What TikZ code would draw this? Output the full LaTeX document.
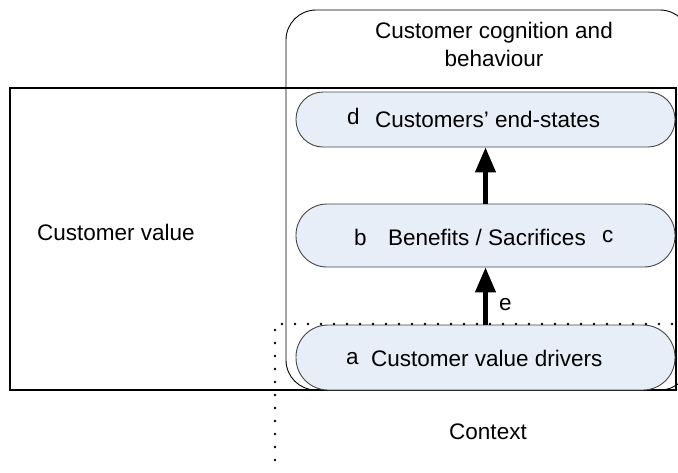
\documentclass[tikz,border=0pt]{standalone}
\usepackage{fontspec}
\setmainfont{Liberation Sans}
\usetikzlibrary{arrows.meta}
\definecolor{pillfill}{RGB}{232,238,248}
\definecolor{pillline}{RGB}{70,70,70}
\begin{document}
\begin{tikzpicture}[x=1pt,y=-1pt,
  txt/.style={font=\fontsize{22.5}{28}\selectfont, inner sep=0pt, align=center},
  pill/.style={draw=pillline, line width=0.9pt, fill=pillfill, inner sep=0pt},
  bigarrow/.style={line width=4.5pt, -{Triangle[length=25pt,width=20pt]}},
  dotline/.style={line width=2.6pt, dash pattern=on 0pt off 13pt, line cap=round}]
\useasboundingbox (0,0) rectangle (678,472);
\begin{scope}
\clip (0,0) rectangle (678,472);
% cognition rounded box
\draw[line width=0.9pt, rounded corners=30pt] (286,10) rectangle (690,390);
\end{scope}
% customer value box
\draw[line width=2pt] (10,88) rectangle (676,390);
% pills
\node[pill, rounded corners=27pt, minimum width=379pt, minimum height=55pt] (d) at (485.5,119.5) {};
\node[pill, rounded corners=31pt, minimum width=379pt, minimum height=63pt] (b) at (485.5,235.5) {};
\node[pill, rounded corners=32pt, minimum width=379pt, minimum height=65pt] (a) at (485.5,357.5) {};
% pill labels
\node[txt, anchor=west] (dl) at (347,116) {d};
\node[txt, anchor=west] (dt) at (375,119) {Customers’ end-states};
\node[txt, anchor=west] (bl) at (354,237) {b};
\node[txt, anchor=west] (bt) at (388,237) {Benefits / Sacrifices};
\node[txt, anchor=west] (cl) at (602,237) {c};
\node[txt, anchor=west] (al) at (346,359) {a};
\node[txt, anchor=west] (at) at (371,358) {Customer value drivers};
% arrows
\draw[bigarrow] (b.north) -- (d.south);
\draw[bigarrow] (a.north) -- (b.south);
\node[txt, anchor=west] (e) at (499,305) {e};
% dotted lines
\coordinate (h1) at (282,324);
\coordinate (h2) at (678,324);
\coordinate (v1) at (275,330);
\coordinate (v2) at (275,467);
\draw[dotline] (h1) -- (h2);
\draw[dotline] (v1) -- (v2);
% texts
\node[txt] (cog) at (494,44) {Customer cognition and\\behaviour};
\node[txt, anchor=west] (cv) at (37,232) {Customer value};
\node[txt] (ctx) at (488,432) {Context};
\end{tikzpicture}
\end{document}
